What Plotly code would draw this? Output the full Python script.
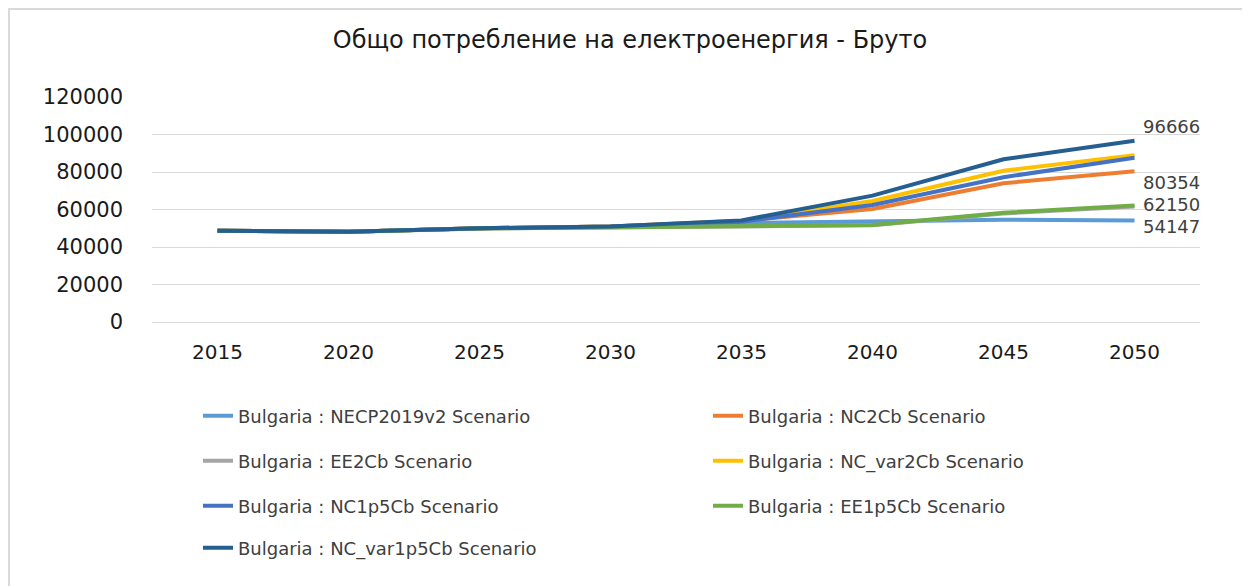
import plotly.graph_objects as go

years = ["2015", "2020", "2025", "2030", "2035", "2040", "2045", "2050"]

series_names = [
    "Bulgaria : NECP2019v2 Scenario",
    "Bulgaria : NC2Cb Scenario",
    "Bulgaria : EE2Cb Scenario",
    "Bulgaria : NC_var2Cb Scenario",
    "Bulgaria : NC1p5Cb Scenario",
    "Bulgaria : EE1p5Cb Scenario",
    "Bulgaria : NC_var1p5Cb Scenario",
]

necp2019v2 = [48700, 48200, 50000, 50800, 52800, 53600, 54600, 54147]
nc2cb = [48700, 48200, 50000, 51000, 54000, 60300, 74000, 80354]
ee2cb = [48700, 48200, 49900, 50600, 51300, 51600, 57900, 61600]
nc_var2cb = [48700, 48200, 50000, 50900, 53700, 64500, 80700, 89000]
nc1p5cb = [48700, 48200, 50000, 50900, 53500, 62400, 77200, 87600]
ee1p5cb = [48700, 48200, 49900, 50600, 51400, 51700, 58300, 62150]
nc_var1p5cb = [48700, 48200, 50000, 50900, 54200, 67400, 86800, 96666]

series_values = [necp2019v2, nc2cb, ee2cb, nc_var2cb, nc1p5cb, ee1p5cb, nc_var1p5cb]
colors = ["#5B9BD5", "#ED7D31", "#A5A5A5", "#FFC000", "#4472C4", "#70AD47", "#255E91"]

label_series = [6, 1, 5, 0]          # series indices that carry an end label
label_yshift = [14, -11, 1, -6]

y_ticks = [0, 20000, 40000, 60000, 80000, 100000, 120000]

title_text = "Общо потребление на електроенергия - Бруто"

FONT = "DejaVu Sans"

fig = go.Figure()
legend_ids = ["legend", "legend2", "legend3", "legend4"]
for i, (name, vals, col) in enumerate(zip(series_names, series_values, colors)):
    fig.add_trace(go.Scatter(
        x=years, y=vals, name=name, mode="lines",
        line=dict(color=col, width=4),
        legend=legend_ids[i // 2],
    ))

last_idx = len(years) - 1
for idx, ys in zip(label_series, label_yshift):
    v = series_values[idx][-1]
    fig.add_annotation(
        x=last_idx, y=v, xref="x", yref="y", text=str(v), showarrow=False,
        xanchor="left", yanchor="middle", xshift=6, yshift=ys,
        font=dict(family=FONT, size=18, color="#404040"),
    )

W, H = 1250, 586
OFF = 8  # page body margin
ml, mt = 152 - OFF, 97 - OFF
pw, ph = 1048, 225
mr = W - ml - pw
mb = H - mt - ph

def px_x(p):
    return (p - OFF - ml) / pw

def px_y(p):
    return (mt + ph - (p - OFF)) / ph

legend_common = dict(
    orientation="h", xanchor="left", yanchor="middle",
    font=dict(family=FONT, size=18, color="#404040"),
    entrywidth=465, entrywidthmode="pixels", bgcolor="rgba(0,0,0,0)",
)
row_y = [416, 461, 506, 548]
legends = {}
for lid, ry in zip(legend_ids, row_y):
    legends[lid] = dict(legend_common, x=px_x(198), y=px_y(ry))

fig.update_layout(
    width=W, height=H,
    margin=dict(l=ml, r=mr, t=mt, b=mb),
    paper_bgcolor="white", plot_bgcolor="white",
    title=dict(text=title_text, x=(630 - OFF) / W, xanchor="center",
               y=1 - (40 - OFF) / H, yanchor="middle",
               font=dict(family=FONT, size=24, color="#1a1a1a")),
    xaxis=dict(type="category", range=[-0.5, 7.5], showgrid=False,
               showline=True, linecolor="#D9D9D9", linewidth=1,
               ticks="", tickfont=dict(family=FONT, size=20, color="#1a1a1a"),
               ticklabelstandoff=12),
    yaxis=dict(range=[0, 120000], tickvals=y_ticks,
               ticktext=[str(t) for t in y_ticks],
               showgrid=True, gridcolor="#D9D9D9", gridwidth=1,
               zeroline=True, zerolinecolor="#D9D9D9", zerolinewidth=1,
               showline=False, ticks="",
               tickfont=dict(family=FONT, size=21, color="#1a1a1a"),
               ticklabelstandoff=28),
    showlegend=True,
    **legends,
)

# chart frame (light gray border, top and left visible)
fig.add_shape(type="rect", xref="paper", yref="paper",
              x0=px_x(9), x1=px_x(1270), y0=px_y(620), y1=px_y(9),
              line=dict(color="#D9D9D9", width=2), fillcolor="rgba(0,0,0,0)",
              layer="below")

fig.write_html("out.html")
